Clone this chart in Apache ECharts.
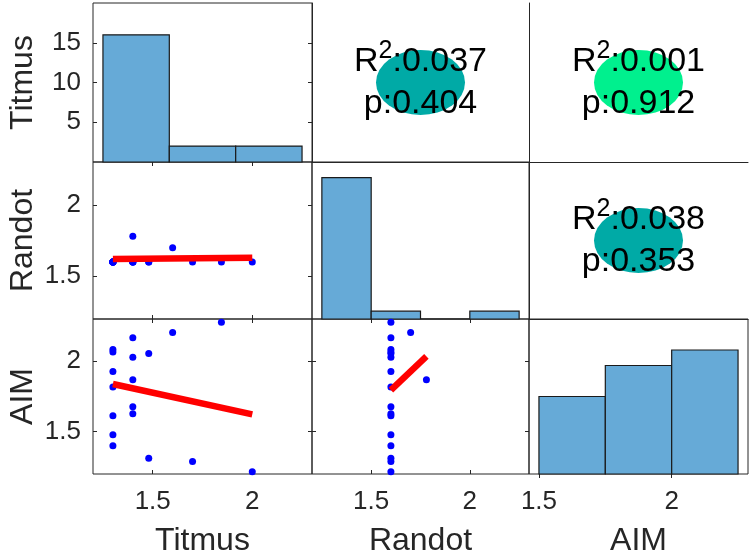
<!DOCTYPE html>
<html>
<head>
<meta charset="utf-8">
<script src="https://cdn.jsdelivr.net/npm/echarts@6/dist/echarts.min.js"></script>
<style>
  html, body { margin: 0; padding: 0; background: #fff; }
  #chart { width: 750px; height: 558px; }
</style>
</head>
<body>
<div id="chart"></div>
<script>
// variables, in matrix order
const varNames = ["Titmus", "Randot", "AIM"];
const titmus = [1.3, 1.3, 1.3, 1.3, 1.3, 1.3, 1.3, 1.4, 1.4, 1.4, 1.4, 1.4, 1.48, 1.48, 1.6, 1.7, 1.845, 2.0];
const randot = [1.6, 1.6, 1.6, 1.6, 1.6, 1.6, 1.6, 1.6, 1.6, 1.78, 1.6, 1.6, 1.6, 1.6, 1.7, 1.6, 1.6, 1.6];
const aim = [2.084, 2.065, 1.928, 1.818, 1.614, 1.479, 1.40, 2.167, 2.028, 1.869, 1.677, 1.628, 2.056, 1.311, 2.204, 1.288, 2.277, 1.216];
// least-squares lines, end points
const fitTitRan = [[1.3, 1.620], [2.0, 1.630]];
const fitTitAim = [[1.3, 1.839], [2.0, 1.623]];
const fitRanAim = [[1.6, 1.795], [1.78, 2.035]];
// histograms on the diagonal
const titEdges = [1.25, 1.5833, 1.9167, 2.25];
const titCounts = [16, 2, 2];
const ranEdges = [1.25, 1.5, 1.75, 2.0, 2.25];
const ranCounts = [18, 1, 0, 1];
const aimEdges = [1.5, 1.75, 2.0, 2.25];
const aimCounts = [5, 7, 8];
// upper triangle: (1,2), (1,3), (2,3)
const r2Vals = ["0.037", "0.001", "0.038"];
const pVals = ["0.404", "0.912", "0.353"];
const ellipseColors = ["#00aaa6", "#00f08e", "#00aaa6"];
// ticks
const varTicks = [1.5, 2];
const countTicks = [5, 10, 15];

const colLeft = [93, 312, 529], colWidth = [219, 217, 219];
const rowTop = [3, 162, 319], rowHeight = [159, 157, 158];
const varRange = [1.2, 2.3];
const aimHistRange = [1.4625, 2.2875];

const axisColor = "#262626";
const font = "Liberation Sans, Arial, sans-serif";

const grids = [], xAxes = [], yAxes = [], series = [];

function tickOpt(vals) {
  if (!vals) return { show: false };
  return { show: true, inside: true, length: 4, customValues: vals, lineStyle: { color: axisColor, width: 1 } };
}

function addPanel(r, c, o) {
  const gi = grids.length;
  grids.push({
    left: colLeft[c], top: rowTop[r], width: colWidth[c], height: rowHeight[r],
    show: !!o.box, borderColor: axisColor, borderWidth: 1, backgroundColor: "transparent"
  });
  const xi = xAxes.length, yi = yAxes.length;
  xAxes.push({
    gridIndex: gi, type: "value", position: "bottom", min: o.x[0], max: o.x[1],
    axisLine: { show: !o.box, onZero: false, lineStyle: { color: axisColor, width: 1 } },
    axisTick: tickOpt(o.xTicks),
    axisLabel: o.xName ? { show: true, customValues: o.xTicks, margin: 15, fontSize: 26, color: axisColor, fontFamily: font } : { show: false },
    splitLine: { show: false },
    name: o.xName || "", nameLocation: "middle", nameGap: 51,
    nameTextStyle: { fontSize: 32, color: axisColor, fontFamily: font }
  });
  yAxes.push({
    gridIndex: gi, type: "value", position: "left", min: o.y[0], max: o.y[1],
    axisLine: { show: !o.box, onZero: false, lineStyle: { color: axisColor, width: 1 } },
    axisTick: tickOpt(o.yTicks),
    axisLabel: o.yName ? { show: true, customValues: o.yTicks, margin: 12, fontSize: 26, color: axisColor, fontFamily: font } : { show: false },
    splitLine: { show: false },
    name: o.yName || "", nameLocation: "middle", nameGap: 54, nameRotate: 90,
    nameTextStyle: { fontSize: 32, color: axisColor, fontFamily: font }
  });
  // mirrored ticks on top / right
  if (o.box && o.xTicks) {
    xAxes.push({ gridIndex: gi, type: "value", position: "top", min: o.x[0], max: o.x[1],
      axisLine: { show: false }, axisTick: tickOpt(o.xTicks), axisLabel: { show: false }, splitLine: { show: false } });
  }
  if (o.box && o.yTicks) {
    yAxes.push({ gridIndex: gi, type: "value", position: "right", min: o.y[0], max: o.y[1],
      axisLine: { show: false }, axisTick: tickOpt(o.yTicks), axisLabel: { show: false }, splitLine: { show: false } });
  }
  return { xi, yi };
}

function histSeries(ax, edges, counts) {
  const data = counts.map((n, i) => [edges[i], edges[i + 1], n]);
  return {
    type: "custom", xAxisIndex: ax.xi, yAxisIndex: ax.yi, data: data,
    encode: { x: [0, 1], y: 2 },
    renderItem: function (params, api) {
      const p0 = api.coord([api.value(0), api.value(2)]);
      const p1 = api.coord([api.value(1), 0]);
      return {
        type: "rect",
        shape: { x: p0[0], y: p0[1], width: p1[0] - p0[0], height: p1[1] - p0[1] },
        style: { fill: "#66aad7", stroke: "#1a1a1a", lineWidth: 1.2 }
      };
    }
  };
}

function scatterSeries(ax, xs, ys) {
  return {
    type: "scatter", xAxisIndex: ax.xi, yAxisIndex: ax.yi, z: 2,
    data: xs.map((v, i) => [v, ys[i]]),
    symbolSize: 7, itemStyle: { color: "#0000ff", opacity: 1 }
  };
}

function fitSeries(ax, pts) {
  return {
    type: "line", xAxisIndex: ax.xi, yAxisIndex: ax.yi, z: 3, data: pts,
    symbol: "none", lineStyle: { color: "#ff0000", width: 6.5, cap: "butt" }
  };
}

function statSeries(ax, k) {
  return {
    type: "scatter", xAxisIndex: ax.xi, yAxisIndex: ax.yi,
    data: [[0.5, 0.5]], symbol: "circle", symbolSize: [89, 65],
    itemStyle: { color: ellipseColors[k], opacity: 1 },
    label: {
      show: true, position: "inside", color: "#000", offset: [0, -2],
      formatter: "{a|R}{s|2}{a|:" + r2Vals[k] + "}\n{m|p:" + pVals[k] + "}",
      rich: {
        a: { fontSize: 34, lineHeight: 46, fontFamily: font, color: "#000" },
        m: { fontSize: 34, lineHeight: 38, fontFamily: font, color: "#000" },
        s: { fontSize: 25, lineHeight: 25, verticalAlign: "top", fontFamily: font, color: "#000" }
      }
    }
  };
}

// row 1
const p11 = addPanel(0, 0, { box: true, x: varRange, y: [0, 20], yTicks: countTicks, yName: varNames[0] });
const p12 = addPanel(0, 1, { box: false, x: [0, 1], y: [0, 1] });
const p13 = addPanel(0, 2, { box: false, x: [0, 1], y: [0, 1] });
// row 2
const p21 = addPanel(1, 0, { box: true, x: varRange, y: varRange, xTicks: varTicks, yTicks: varTicks, yName: varNames[1] });
const p22 = addPanel(1, 1, { box: true, x: varRange, y: [0, 20] });
const p23 = addPanel(1, 2, { box: false, x: [0, 1], y: [0, 1] });
// row 3
const p31 = addPanel(2, 0, { box: true, x: varRange, y: varRange, xTicks: varTicks, yTicks: varTicks, xName: varNames[0], yName: varNames[2] });
const p32 = addPanel(2, 1, { box: true, x: varRange, y: varRange, xTicks: varTicks, yTicks: varTicks, xName: varNames[1] });
const p33 = addPanel(2, 2, { box: true, x: aimHistRange, y: [0, 10], xTicks: varTicks, xName: varNames[2] });

series.push(histSeries(p11, titEdges, titCounts));
series.push(histSeries(p22, ranEdges, ranCounts));
series.push(histSeries(p33, aimEdges, aimCounts));
series.push(scatterSeries(p21, titmus, randot));
series.push(scatterSeries(p31, titmus, aim));
series.push(scatterSeries(p32, randot, aim));
series.push(fitSeries(p21, fitTitRan));
series.push(fitSeries(p31, fitTitAim));
series.push(fitSeries(p32, fitRanAim));
series.push(statSeries(p12, 0));
series.push(statSeries(p13, 1));
series.push(statSeries(p23, 2));

const chart = echarts.init(document.getElementById("chart"), null, { renderer: "canvas" });
chart.setOption({
  animation: false,
  backgroundColor: "#ffffff",
  grid: grids,
  xAxis: xAxes,
  yAxis: yAxes,
  series: series
});
</script>
</body>
</html>
